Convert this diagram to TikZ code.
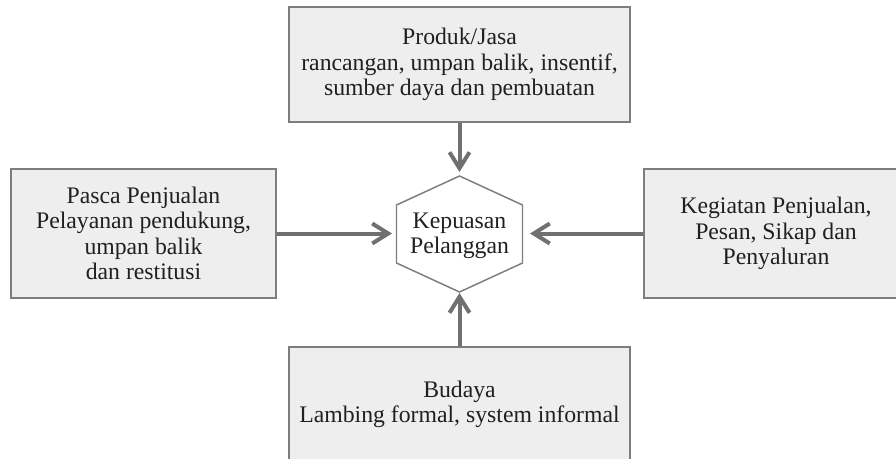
\documentclass[tikz,border=0pt]{standalone}
\usepackage{fontspec}
\setmainfont{Liberation Serif}
\usetikzlibrary{arrows.meta}
\definecolor{boxfill}{RGB}{237,238,237}
\definecolor{boxline}{RGB}{125,125,125}
\definecolor{arrowc}{RGB}{112,112,112}
\definecolor{txt}{RGB}{35,31,32}
\begin{document}
\begin{tikzpicture}[x=0.75pt,y=-0.75pt,
  every node/.style={text=txt,font=\fontsize{17.8}{19}\selectfont},
  boxnode/.style={draw=boxline,line width=1.5pt,fill=boxfill,inner sep=0pt,align=center},
  arr/.style={draw=arrowc,line width=3pt,-{Straight Barb[length=12pt,width=15pt]}},
  hexline/.style={draw=boxline,line width=1.1pt}]
\useasboundingbox (0,0) rectangle (896,458);
\clip (0,0) rectangle (896,458);
\node[boxnode,minimum width=341*0.75pt,minimum height=115*0.75pt] (top) at (459.5,64.5)
  {Produk/Jasa\\rancangan, umpan balik, insentif,\\sumber daya dan pembuatan};
\node[boxnode,minimum width=265*0.75pt,minimum height=129*0.75pt] (left) at (143.5,233.5)
  {Pasca Penjualan\\Pelayanan pendukung,\\umpan balik\\dan restitusi};
\node[boxnode,minimum width=264*0.75pt,minimum height=129*0.75pt] (right) at (776,233.5)
  {Kegiatan Penjualan,\\Pesan, Sikap dan\\Penyaluran};
\node[boxnode,minimum width=341*0.75pt,minimum height=115*0.75pt] (bottom) at (459.5,404.5)
  {Budaya\\Lambing formal, system informal};
\node[align=center,inner sep=0pt] (hex) at (459.5,236) {Kepuasan\\Pelanggan};
\draw[hexline] (459.5,176) -- (522.5,205) -- (522.5,263) -- (459.5,292) -- (396.5,263) -- (396.5,205) -- cycle;
\coordinate (hexN) at (459.5,172);
\coordinate (hexS) at (459.5,293);
\coordinate (hexW) at (392,233.5);
\coordinate (hexE) at (530,233.5);
\draw[arr] (top) -- (hexN);
\draw[arr] (bottom) -- (hexS);
\draw[arr] (left) -- (hexW);
\draw[arr] (right) -- (hexE);
\end{tikzpicture}
\end{document}
